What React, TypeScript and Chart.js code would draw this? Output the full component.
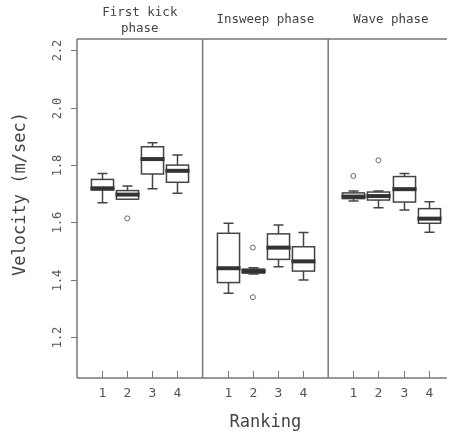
import React, { useEffect, useRef } from "react";
import { Chart, registerables } from "chart.js";
Chart.register(...registerables);

const phaseTitles = [["First kick", "phase"], ["Insweep phase"], ["Wave phase"]];
const rankings = ["1", "2", "3", "4"];
const yTickValues = [1.2, 1.4, 1.6, 1.8, 2.0, 2.2];

// 12 boxes: 3 phases x 4 rankings
const whiskerLow = [1.669, 1.681, 1.717, 1.702, 1.353, 1.420, 1.445, 1.399, 1.675, 1.651, 1.643, 1.566];
const quartile1 = [1.713, 1.681, 1.769, 1.740, 1.390, 1.423, 1.471, 1.430, 1.683, 1.678, 1.671, 1.597];
const medians = [1.719, 1.697, 1.821, 1.780, 1.440, 1.430, 1.512, 1.464, 1.690, 1.692, 1.716, 1.613];
const quartile3 = [1.750, 1.711, 1.864, 1.800, 1.562, 1.437, 1.560, 1.515, 1.703, 1.706, 1.760, 1.648];
const whiskerHigh = [1.771, 1.727, 1.878, 1.835, 1.597, 1.442, 1.591, 1.565, 1.710, 1.710, 1.771, 1.672];
const outlierBox = [1, 5, 5, 8, 9];
const outlierValue = [1.614, 1.512, 1.339, 1.762, 1.817];

const boxX = (i: number) => Math.floor(i / 4) * 5 + (i % 4) + 1;

const FONT = "'DejaVu Sans Mono', 'Liberation Mono', monospace";

const boxPlugin = {
  id: "boxes",
  beforeDatasetsDraw(chart: any) {
    const { ctx, scales } = chart;
    const xs = scales.x, ys = scales.y;
    const halfW = (xs.getPixelForValue(1.44) - xs.getPixelForValue(1)) ;
    const capW = 5;
    ctx.save();
    for (let i = 0; i < medians.length; i++) {
      const cx = Math.round(xs.getPixelForValue(boxX(i))) + 0.5;
      const yLo = ys.getPixelForValue(whiskerLow[i]);
      const yQ1 = ys.getPixelForValue(quartile1[i]);
      const yMed = ys.getPixelForValue(medians[i]);
      const yQ3 = ys.getPixelForValue(quartile3[i]);
      const yHi = ys.getPixelForValue(whiskerHigh[i]);
      ctx.strokeStyle = "#444";
      ctx.lineWidth = 1.5;
      ctx.beginPath();
      // whiskers
      ctx.moveTo(cx, yQ1); ctx.lineTo(cx, yLo);
      ctx.moveTo(cx - capW, yLo); ctx.lineTo(cx + capW, yLo);
      ctx.moveTo(cx, yQ3); ctx.lineTo(cx, yHi);
      ctx.moveTo(cx - capW, yHi); ctx.lineTo(cx + capW, yHi);
      ctx.stroke();
      // box
      ctx.fillStyle = "#fff";
      ctx.fillRect(cx - halfW, yQ3, 2 * halfW, yQ1 - yQ3);
      ctx.strokeRect(cx - halfW, yQ3, 2 * halfW, yQ1 - yQ3);
      // median
      ctx.strokeStyle = "#333";
      ctx.lineWidth = 4;
      ctx.beginPath();
      ctx.moveTo(cx - halfW - 1, yMed); ctx.lineTo(cx + halfW + 1, yMed);
      ctx.stroke();
    }
    ctx.restore();
  },
  afterDraw(chart: any) {
    const { ctx, scales, chartArea } = chart;
    const xs = scales.x, ys = scales.y;
    const { left, right, top, bottom } = chartArea;
    ctx.save();
    ctx.strokeStyle = "#777";
    ctx.lineWidth = 1.5;
    ctx.beginPath();
    ctx.moveTo(left, top); ctx.lineTo(right, top);
    ctx.moveTo(left, top); ctx.lineTo(left, bottom);
    ctx.moveTo(left, bottom); ctx.lineTo(right, bottom);
    for (const d of [5, 10]) {
      const px = xs.getPixelForValue(d);
      ctx.moveTo(px, top); ctx.lineTo(px, bottom);
    }
    ctx.stroke();
    // y ticks (outward) and rotated labels
    ctx.fillStyle = "#555";
    ctx.font = `12px ${FONT}`;
    ctx.textAlign = "center";
    ctx.textBaseline = "middle";
    ctx.lineWidth = 1;
    for (const v of yTickValues) {
      const py = Math.round(ys.getPixelForValue(v)) + 0.5;
      ctx.beginPath();
      ctx.moveTo(left - 6, py); ctx.lineTo(left, py);
      ctx.stroke();
      ctx.save();
      ctx.translate(58, py);
      ctx.rotate(-Math.PI / 2);
      ctx.fillText(v.toFixed(1), 0, 0);
      ctx.restore();
    }
    // x ticks (inward) and labels
    ctx.font = `13px ${FONT}`;
    for (let p = 0; p < 3; p++) {
      for (let r = 0; r < rankings.length; r++) {
        const px = Math.round(xs.getPixelForValue(p * 5 + r + 1)) + 0.5;
        ctx.beginPath();
        ctx.moveTo(px, bottom - 7); ctx.lineTo(px, bottom);
        ctx.stroke();
        ctx.fillText(rankings[r], px, 394);
      }
    }
    // phase titles
    ctx.fillStyle = "#444";
    ctx.font = `12.5px ${FONT}`;
    for (let p = 0; p < phaseTitles.length; p++) {
      const cx = (xs.getPixelForValue(p * 5) + xs.getPixelForValue(p * 5 + 5)) / 2;
      const lines = phaseTitles[p];
      if (lines.length === 1) {
        ctx.fillText(lines[0], cx, 20);
      } else {
        ctx.fillText(lines[0], cx, 13);
        ctx.fillText(lines[1], cx, 28.5);
      }
    }
    // axis titles
    ctx.fillStyle = "#444";
    ctx.font = `17px ${FONT}`;
    ctx.fillText("Ranking", (xs.getPixelForValue(5) + xs.getPixelForValue(10)) / 2, 423);
    ctx.save();
    ctx.translate(21, 194);
    ctx.rotate(-Math.PI / 2);
    ctx.fillText("Velocity (m/sec)", 0, 0);
    ctx.restore();
    ctx.restore();
  },
};

export default function App() {
  const ref = useRef<HTMLCanvasElement>(null);
  useEffect(() => {
    if (!ref.current) return;
    const chart = new Chart(ref.current, {
      type: "scatter",
      data: {
        datasets: [
          {
            label: "outliers",
            data: outlierBox.map((b, k) => ({ x: boxX(b), y: outlierValue[k] })),
            pointStyle: "circle",
            pointRadius: 2.5,
            pointBorderWidth: 1,
            pointBackgroundColor: "#fff",
            pointBorderColor: "#666",
          },
        ],
      },
      options: {
        responsive: false,
        animation: false,
        layout: { padding: { left: 77, top: 39, right: 0, bottom: 61 } },
        plugins: { legend: { display: false }, tooltip: { enabled: false } },
        scales: {
          x: { type: "linear", display: false, min: 0, max: 14.73 },
          y: { type: "linear", display: false, min: 1.0569, max: 2.2401 },
        },
      },
      plugins: [boxPlugin],
    });
    return () => chart.destroy();
  }, []);
  return (
    <div style={{ position: "absolute", left: 0, top: 0, width: 452, height: 439, background: "#fff" }}>
      <canvas ref={ref} width={452} height={439} style={{ display: "block" }} />
    </div>
  );
}
